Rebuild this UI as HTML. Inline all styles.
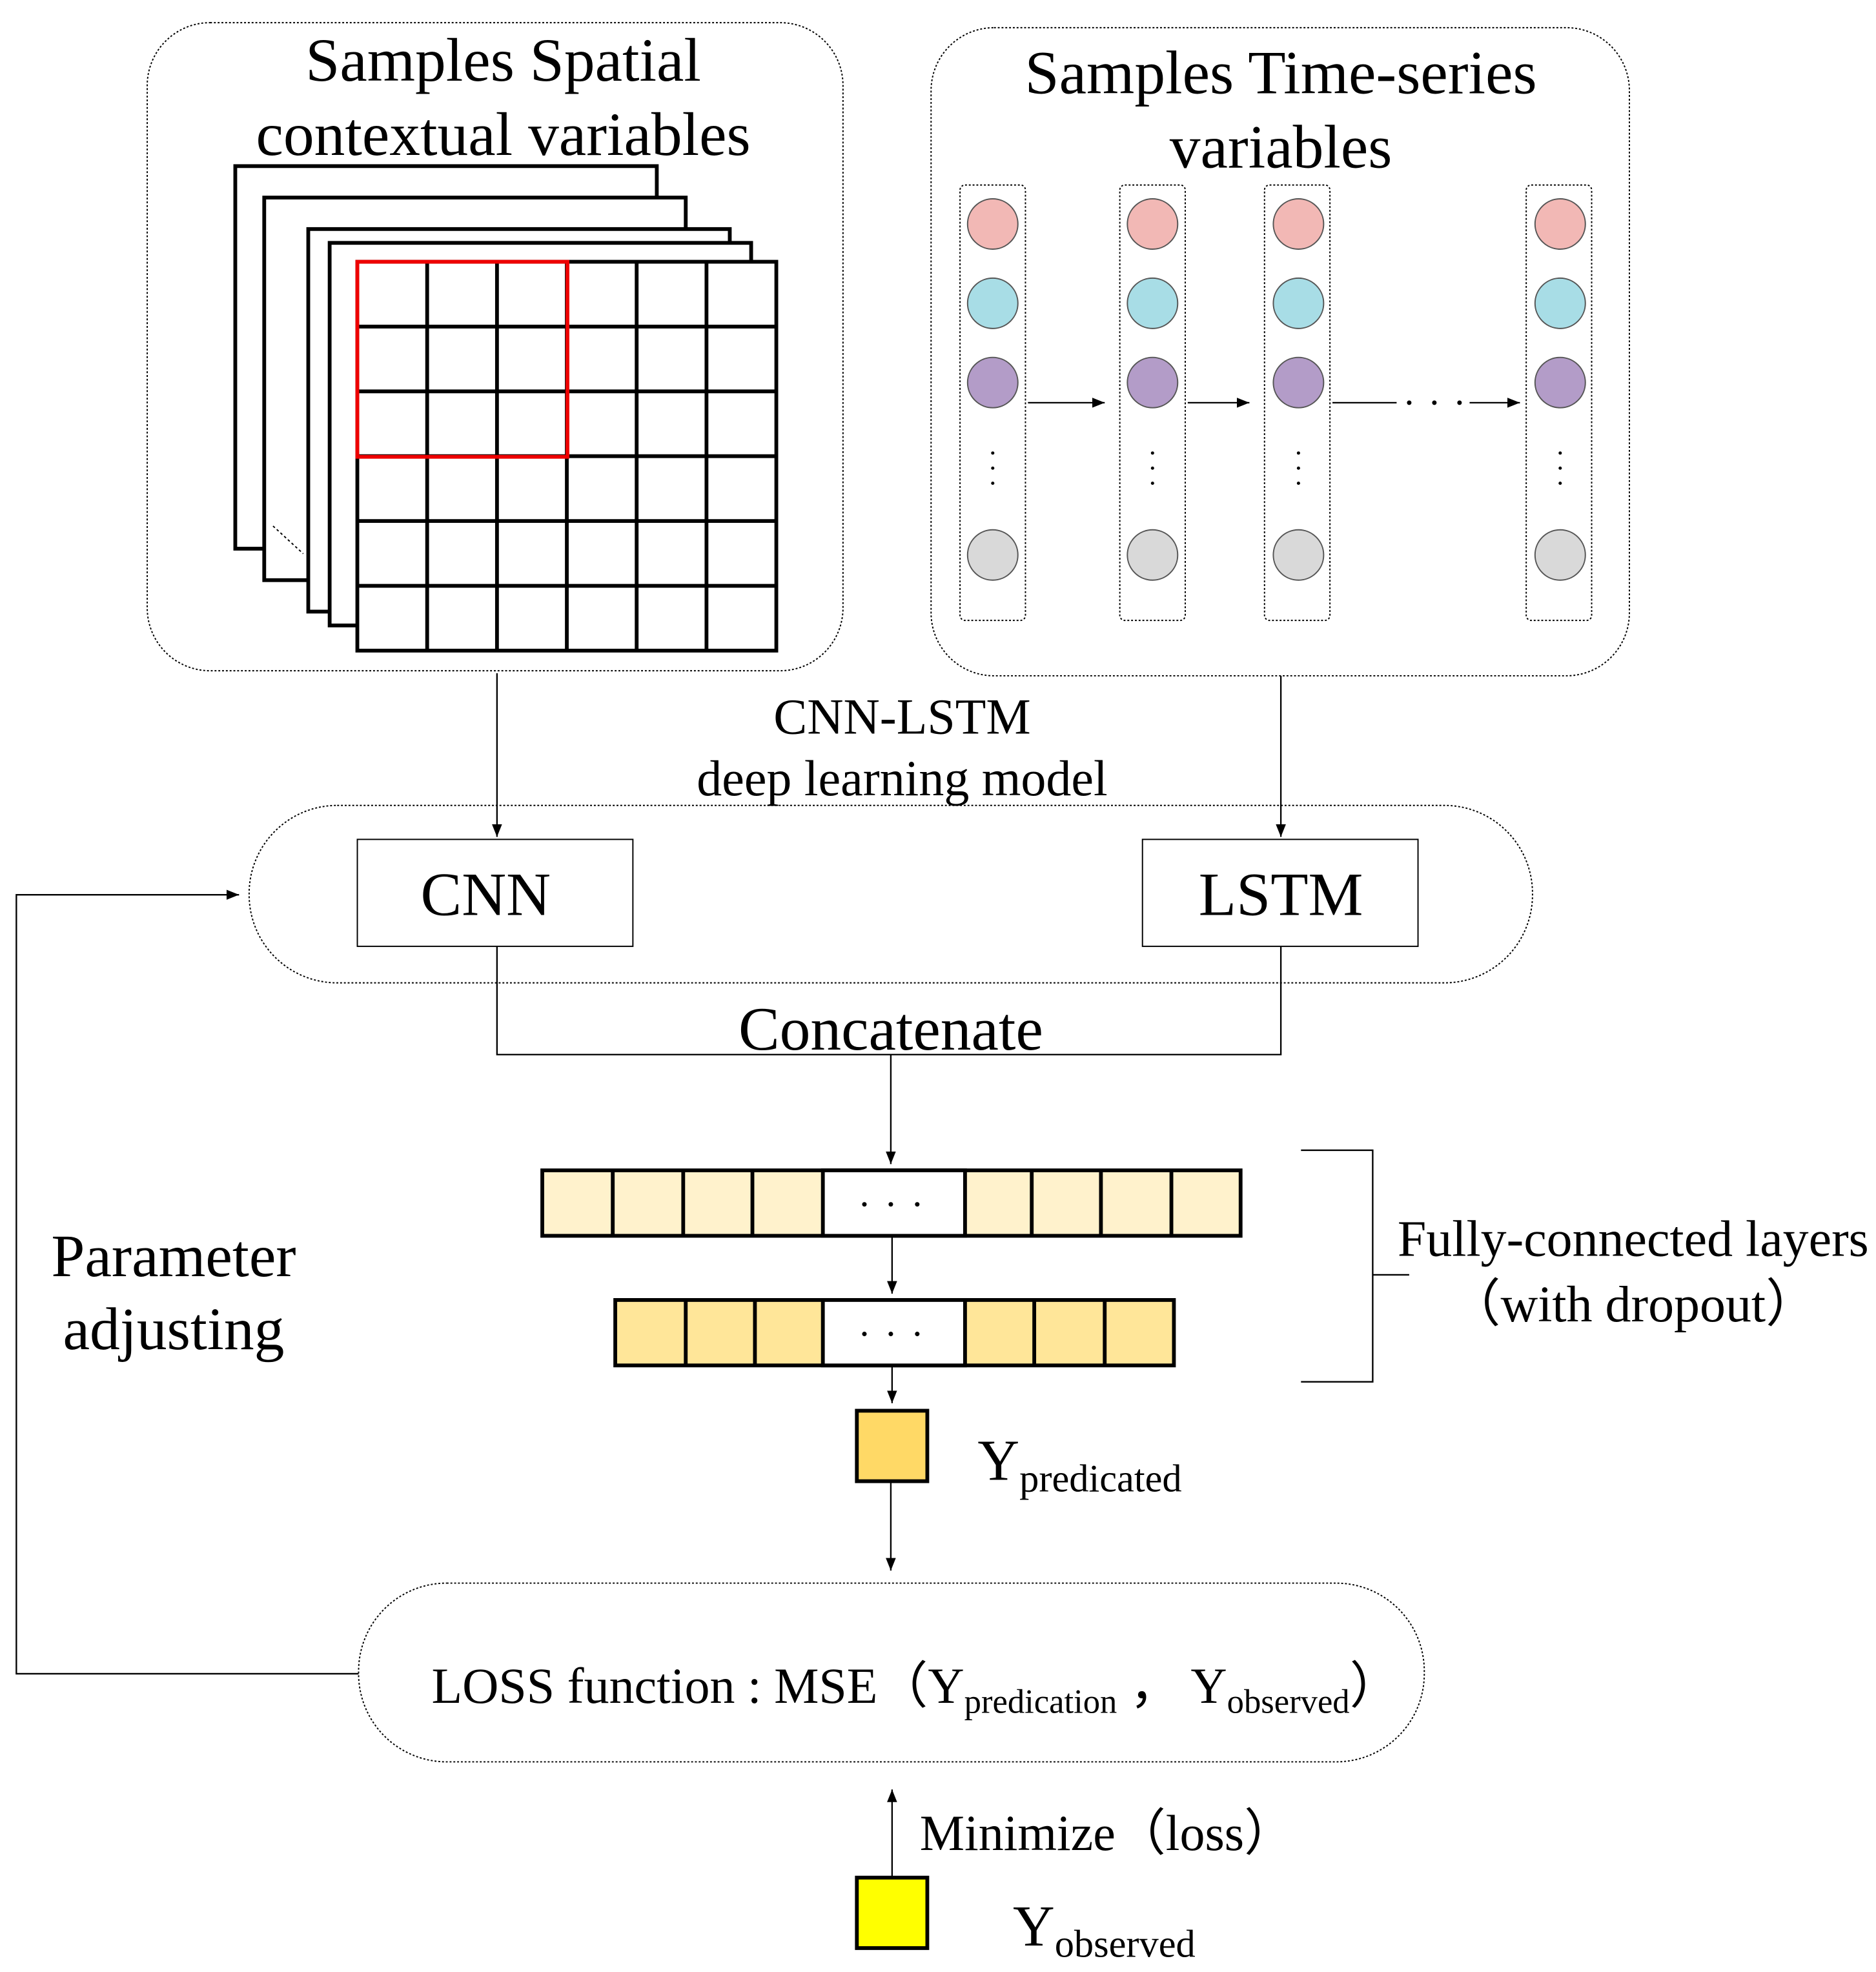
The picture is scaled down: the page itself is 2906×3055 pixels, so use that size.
<!DOCTYPE html>
<html><head><meta charset="utf-8"><style>html,body{margin:0;padding:0;background:#fff}svg{display:block}</style></head>
<body>
<svg width="2906" height="3055" viewBox="0 0 1491 1567" preserveAspectRatio="none" xmlns="http://www.w3.org/2000/svg" font-family="'Liberation Serif', serif">
<defs><marker id="a" markerWidth="10" markerHeight="8" refX="10" refY="4" orient="auto" markerUnits="userSpaceOnUse"><path d="M0,0L10,4L0,8Z" fill="#000"/></marker></defs>
<g fill="none" stroke="#000" stroke-width="1" stroke-dasharray="1.5,1.5">
<rect x="117" y="18" width="553" height="515" rx="50"/>
<rect x="740" y="22" width="555" height="515" rx="50"/>
<rect x="198" y="640" width="1020" height="141" rx="70"/>
<rect x="285" y="1258" width="847" height="142" rx="70"/>
<rect x="763" y="147" width="52" height="346" rx="4"/>
<rect x="890" y="147" width="52" height="346" rx="4"/>
<rect x="1005" y="147" width="52" height="346" rx="4"/>
<rect x="1213" y="147" width="52" height="346" rx="4"/>
</g>
<g font-size="49" text-anchor="middle">
<text x="400" y="64">Samples Spatial</text>
<text x="400" y="123">contextual variables</text>
<text x="1018" y="74">Samples Time-series</text>
<text x="1018" y="133">variables</text>
</g>
<g fill="#fff" stroke="#000" stroke-width="3">
<rect x="187" y="132" width="335" height="304"/>
<rect x="210" y="157" width="335" height="304"/>
<rect x="245" y="182" width="335" height="304"/>
<rect x="262" y="193" width="335" height="304"/>
<rect x="284" y="208" width="333" height="309"/>
<path d="M339.5,208V517M395,208V517M450.5,208V517M506,208V517M561.5,208V517M284,259.5H617M284,311H617M284,362.5H617M284,414H617M284,465.5H617"/>
</g>
<line x1="217" y1="418" x2="241" y2="440" stroke="#000" stroke-dasharray="2,2"/>
<rect x="284" y="208" width="167" height="155" fill="none" stroke="#e00" stroke-width="3"/>
<g stroke="#555" stroke-width="1">
<g fill="#f2b8b5"><circle cx="789" cy="178" r="20"/><circle cx="916" cy="178" r="20"/><circle cx="1032" cy="178" r="20"/><circle cx="1240" cy="178" r="20"/></g>
<g fill="#a8dde6"><circle cx="789" cy="241" r="20"/><circle cx="916" cy="241" r="20"/><circle cx="1032" cy="241" r="20"/><circle cx="1240" cy="241" r="20"/></g>
<g fill="#b39cc8"><circle cx="789" cy="304" r="20"/><circle cx="916" cy="304" r="20"/><circle cx="1032" cy="304" r="20"/><circle cx="1240" cy="304" r="20"/></g>
<g fill="#d9d9d9"><circle cx="789" cy="441" r="20"/><circle cx="916" cy="441" r="20"/><circle cx="1032" cy="441" r="20"/><circle cx="1240" cy="441" r="20"/></g>
</g>
<g stroke="#000" stroke-width="1.2" fill="none">
<line x1="817" y1="320" x2="878" y2="320" marker-end="url(#a)"/>
<line x1="944" y1="320" x2="993" y2="320" marker-end="url(#a)"/>
<line x1="1059" y1="320" x2="1110" y2="320"/>
<line x1="1168" y1="320" x2="1208" y2="320" marker-end="url(#a)"/>
<line x1="395" y1="535" x2="395" y2="665" marker-end="url(#a)"/>
<line x1="1018" y1="537" x2="1018" y2="665" marker-end="url(#a)"/>
<path d="M395,752V838H1018V752"/>
<line x1="708" y1="838" x2="708" y2="925" marker-end="url(#a)"/>
<line x1="709" y1="982" x2="709" y2="1028" marker-end="url(#a)"/>
<line x1="709" y1="1085" x2="709" y2="1115" marker-end="url(#a)"/>
<line x1="708" y1="1177" x2="708" y2="1248" marker-end="url(#a)"/>
<path d="M285,1330H13V711H190" marker-end="url(#a)"/>
<line x1="709" y1="1492" x2="709" y2="1422" marker-end="url(#a)"/>
<path d="M1034,914H1091V1098H1034M1091,1013H1120"/>
</g>
<rect x="284" y="667" width="219" height="85" fill="#fff" stroke="#000"/>
<rect x="908" y="667" width="219" height="85" fill="#fff" stroke="#000"/>
<g font-size="40" text-anchor="middle">
<text x="717" y="583">CNN-LSTM</text>
<text x="717" y="632">deep learning model</text>
</g>
<g font-size="49" text-anchor="middle">
<text x="386" y="727">CNN</text>
<text x="1018" y="727">LSTM</text>
</g>
<text x="708" y="834" font-size="49" text-anchor="middle">Concatenate</text>
<g stroke="#000" stroke-width="3">
<rect x="431" y="930" width="555" height="52" fill="#fff2cc"/>
<rect x="654" y="930" width="113" height="52" fill="#fff"/>
<path d="M487,930V982M543,930V982M598,930V982M820,930V982M875,930V982M931,930V982"/>
<rect x="489" y="1033" width="444" height="52" fill="#ffe699"/>
<rect x="654" y="1033" width="113" height="52" fill="#fff"/>
<path d="M545,1033V1085M600,1033V1085M822,1033V1085M878,1033V1085"/>
<rect x="681" y="1121" width="56" height="56" fill="#ffd966"/>
<rect x="681" y="1492" width="56" height="56" fill="#ffff00"/>
</g>
<g fill="#000"><circle cx="789" cy="360" r="1.3"/><circle cx="789" cy="372" r="1.3"/><circle cx="789" cy="384" r="1.3"/>
<circle cx="916" cy="360" r="1.3"/><circle cx="916" cy="372" r="1.3"/><circle cx="916" cy="384" r="1.3"/>
<circle cx="1032" cy="360" r="1.3"/><circle cx="1032" cy="372" r="1.3"/><circle cx="1032" cy="384" r="1.3"/>
<circle cx="1240" cy="360" r="1.3"/><circle cx="1240" cy="372" r="1.3"/><circle cx="1240" cy="384" r="1.3"/>
<circle cx="1120" cy="320" r="1.8"/><circle cx="1140" cy="320" r="1.8"/><circle cx="1160" cy="320" r="1.8"/>
<circle cx="687" cy="957" r="1.8"/><circle cx="708" cy="957" r="1.8"/><circle cx="729" cy="957" r="1.8"/>
<circle cx="687" cy="1060" r="1.8"/><circle cx="708" cy="1060" r="1.8"/><circle cx="729" cy="1060" r="1.8"/></g>
<text x="777" y="1176" font-size="46">Y<tspan font-size="31" dy="9">predicated</tspan></text>
<text x="805" y="1546" font-size="46">Y<tspan font-size="31" dy="9">observed</tspan></text>
<text x="343" y="1353" font-size="40">LOSS function : MSE（Y<tspan font-size="27" dy="8">predication</tspan><tspan dy="-8"> ，  Y</tspan><tspan font-size="27" dy="8">observed</tspan><tspan dy="-8">）</tspan></text>
<text x="731" y="1470" font-size="40">Minimize（loss）</text>
<g font-size="48" text-anchor="middle">
<text x="138" y="1014">Parameter</text>
<text x="138" y="1072">adjusting</text>
</g>
<g font-size="41" text-anchor="middle">
<text x="1298" y="998">Fully-connected layers</text>
<text x="1298" y="1050">（with dropout）</text>
</g>
</svg>
</body></html>
